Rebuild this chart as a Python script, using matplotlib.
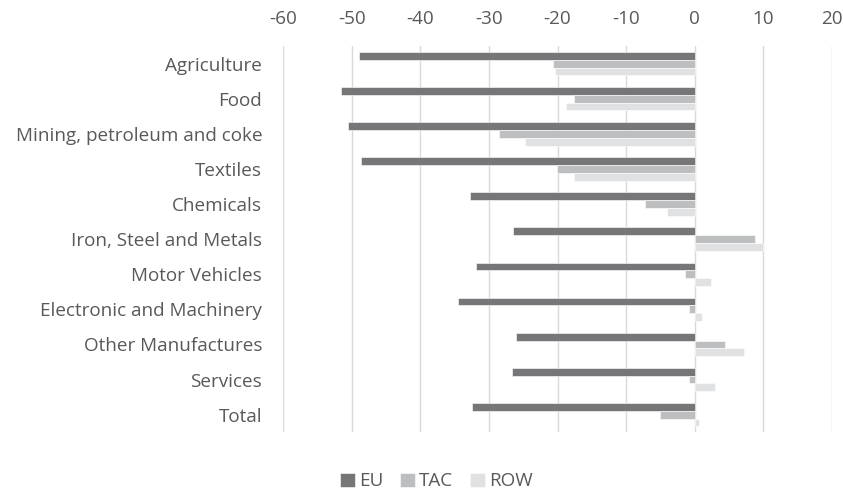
import numpy as np
import matplotlib.pyplot as plt

plt.rcParams['font.family'] = ['Open Sans', 'DejaVu Sans']
plt.rcParams['axes.unicode_minus'] = False

sectors = ["Agriculture", "Food", "Mining, petroleum and coke", "Textiles",
           "Chemicals", "Iron, Steel and Metals", "Motor Vehicles",
           "Electronic and Machinery", "Other Manufactures", "Services", "Total"]
eu = [-48.9, -51.6, -50.6, -48.6, -32.8, -26.5, -31.9, -34.5, -26.1, -26.7, -32.4]
tac = [-20.7, -17.6, -28.5, -20.1, -7.2, 8.75, -1.4, -0.9, 4.4, -0.9, -5.0]
row = [-20.4, -18.8, -24.8, -17.6, -4.1, 10.0, 2.3, 1.1, 7.2, 3.0, 0.6]

series = [("EU", eu, "#767679"), ("TAC", tac, "#bdbebf"), ("ROW", row, "#e0e1e2")]

fig = plt.figure(figsize=(8.43, 4.9), dpi=100)
ax = fig.add_axes([0.3357, 0.118, 0.6513, 0.788])

y = np.arange(len(sectors))
h = 0.222
for i, (name, vals, col) in enumerate(series):
    ax.barh(y + (i - 1) * h, vals, height=h, color=col, label=name,
            edgecolor="white", linewidth=0.4, zorder=3)

ax.set_xlim(-60, 20)
ax.set_xticks(np.arange(-60, 21, 10))
ax.set_ylim(len(sectors) - 0.5, -0.5)
ax.set_yticks(y)
ax.set_yticklabels(sectors)
ax.xaxis.tick_top()
ax.tick_params(axis="both", length=0, labelsize=13.6, colors="#595959")
ax.tick_params(axis="x", pad=13)
ax.tick_params(axis="y", pad=15)
ax.grid(axis="x", color="#d9d9d9", linewidth=1, zorder=0)
for s in ax.spines.values():
    s.set_visible(False)

fig.legend(loc="center", bbox_to_anchor=(0.518, 0.018), ncol=3, frameon=False,
           fontsize=13.6, labelcolor="#595959", handlelength=0.75, handleheight=0.75,
           handletextpad=0.25, columnspacing=0.9)

fig.savefig("out.png", dpi=100)
